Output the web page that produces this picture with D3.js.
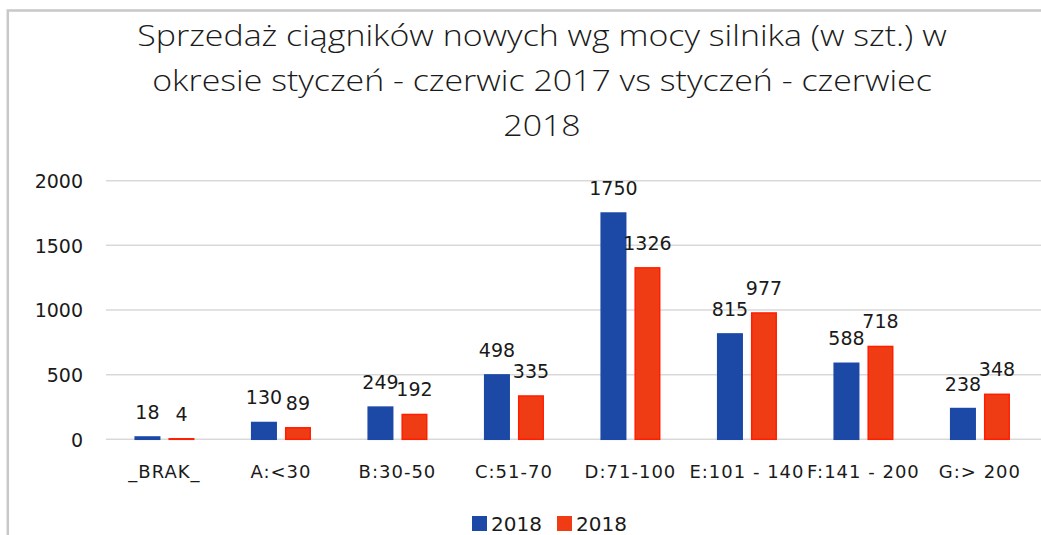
<!DOCTYPE html>
<html>
<head>
<meta charset="utf-8">
<script src="https://cdn.jsdelivr.net/npm/d3@7"></script>
<style>
  html, body { margin: 0; padding: 0; background: #fff; }
  svg { display: block; }
</style>
</head>
<body>
<svg id="chart" width="1041" height="535"></svg>
<script>
const titleLines = [
  "Sprzedaż ciągników nowych wg mocy silnika (w szt.) w",
  "okresie styczeń - czerwic 2017 vs styczeń - czerwiec",
  "2018"
];
const categories = ["_BRAK_", "A:<30", "B:30-50", "C:51-70", "D:71-100", "E:101 - 140", "F:141 - 200", "G:> 200"];
const seriesNames = ["2018", "2018"];
const seriesA = [18, 130, 249, 498, 1750, 815, 588, 238];
const seriesB = [4, 89, 192, 335, 1326, 977, 718, 348];
const yTicks = [0, 500, 1000, 1500, 2000];

const colors = ["#1c48a6", "#f03c14"];
const strokes = ["#1c48a6", "#ff1e00"];

const svg = d3.select("#chart");

// outer frame (partially cropped)
svg.append("rect")
  .attr("x", 7.8).attr("y", 10.5)
  .attr("width", 1200).attr("height", 700)
  .attr("fill", "none").attr("stroke", "#c8c8c8").attr("stroke-width", 2.5);

// title (horizontally stretched like the reference)
const title = svg.append("text")
  .attr("transform", "translate(542,0) scale(1.19,1)")
  .attr("text-anchor", "middle")
  .attr("font-family", "'Open Sans', sans-serif")
  .attr("font-weight", 300)
  .attr("font-size", 28.5)
  .attr("fill", "#1a1a1a");
titleLines.forEach((t, i) => {
  title.append("tspan").attr("x", 0).attr("y", 46.5 + i * 45).text(t);
});

const x0 = d3.scaleBand().domain(categories).range([106.2, 1038.2]).padding(0);
const x1 = d3.scaleBand().domain([0, 1]).range([0, x0.bandwidth()]).paddingInner(0.235).paddingOuter(0.83);
const y = d3.scaleLinear().domain([0, 2000]).range([439.3, 180.7]);

// gridlines
svg.append("g").selectAll("line").data(yTicks).join("line")
  .attr("x1", 106).attr("x2", 1041)
  .attr("y1", d => y(d)).attr("y2", d => y(d))
  .attr("stroke", "#d9d9d9").attr("stroke-width", 1.5);

// y axis labels
const yAxis = d3.axisLeft(y).tickValues(yTicks).tickSize(0).tickPadding(0).tickFormat(d3.format("d"));
const ya = svg.append("g").attr("transform", "translate(83,0)").call(yAxis);
ya.select(".domain").remove();
ya.selectAll("text")
  .attr("font-family", "'DejaVu Sans', sans-serif")
  .attr("font-size", 19)
  .attr("fill", "#1a1a1a")
  .attr("dy", "0.36em");

// x axis labels
const xAxis = d3.axisBottom(x0).tickSize(0).tickPadding(0);
const xa = svg.append("g").attr("transform", "translate(0,478)").call(xAxis);
xa.select(".domain").remove();
xa.selectAll("text")
  .attr("font-family", "'DejaVu Sans', sans-serif")
  .attr("font-size", 18)
  .attr("letter-spacing", 1)
  .attr("fill", "#1a1a1a")
  .attr("dy", 0);

// bars
const rows = categories.map((c, i) => ({ c, vals: [seriesA[i], seriesB[i]] }));
const groups = svg.append("g").selectAll("g").data(rows).join("g")
  .attr("transform", d => `translate(${x0(d.c)},0)`);

groups.selectAll("rect").data(d => d.vals.map((v, k) => ({ v, k }))).join("rect")
  .attr("x", d => x1(d.k) + 0.75)
  .attr("width", x1.bandwidth() - 1.5)
  .attr("y", d => y(d.v))
  .attr("height", d => Math.max(0, y(0) - y(d.v)))
  .attr("fill", d => colors[d.k])
  .attr("stroke", d => strokes[d.k])
  .attr("stroke-width", 1.5);

groups.selectAll("text").data(d => d.vals.map((v, k) => ({ v, k }))).join("text")
  .attr("x", d => x1(d.k) + x1.bandwidth() / 2)
  .attr("y", d => y(d.v) - 18)
  .attr("text-anchor", "middle")
  .attr("font-family", "'DejaVu Sans', sans-serif")
  .attr("font-size", 19)
  .attr("fill", "#1a1a1a")
  .text(d => d.v);

// legend
const legendX = [472, 557];
const lg = svg.append("g").selectAll("g").data(seriesNames).join("g")
  .attr("transform", (d, i) => `translate(${legendX[i]},516)`);
lg.append("rect").attr("width", 15).attr("height", 15)
  .attr("fill", (d, i) => colors[i]);
lg.append("text").attr("x", 19).attr("y", 15)
  .attr("font-family", "'DejaVu Sans', sans-serif")
  .attr("font-size", 20)
  .attr("fill", "#1a1a1a")
  .text(d => d);
</script>
</body>
</html>
